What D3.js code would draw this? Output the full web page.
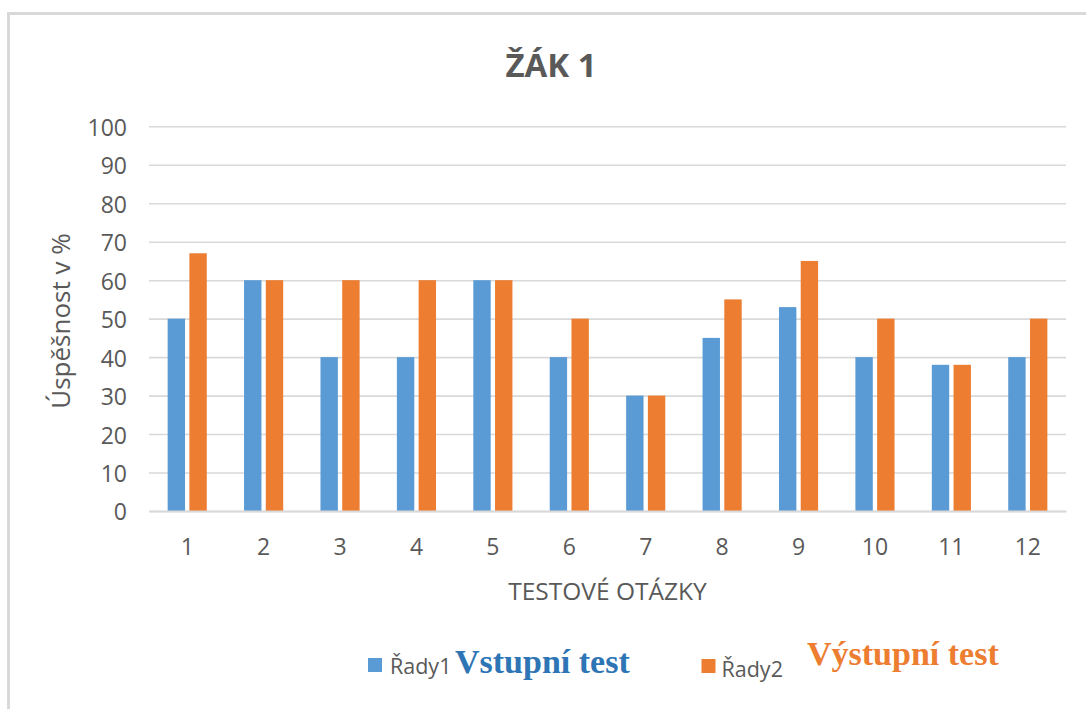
<!DOCTYPE html>
<html>
<head>
<meta charset="utf-8">
<script src="https://cdn.jsdelivr.net/npm/d3@7"></script>
<style>
  html, body { margin: 0; padding: 0; background: #fff; }
  svg { display: block; font-family: "Open Sans", sans-serif; }
</style>
</head>
<body>
<svg id="chart" width="1086" height="709"></svg>
<script>
  // values
  const categories = ["1", "2", "3", "4", "5", "6", "7", "8", "9", "10", "11", "12"];
  const seriesNames = ["Řady1", "Řady2"];
  const vstupni = [50, 60, 40, 40, 60, 40, 30, 45, 53, 40, 38, 40];
  const vystupni = [67, 60, 60, 60, 60, 50, 30, 55, 65, 50, 38, 50];
  const yTicks = [0, 10, 20, 30, 40, 50, 60, 70, 80, 90, 100];

  const BLUE = "#5B9BD5";
  const ORANGE = "#ED7D31";
  const TEXT = "#595959";
  const GRID = "#d9d9d9";

  const rows = categories.map((c, i) => ({ cat: c, values: [vstupni[i], vystupni[i]] }));

  const svg = d3.select("#chart");

  // chart frame (runs off the right/bottom edge like the screenshot)
  svg.append("rect")
    .attr("x", 8.5).attr("y", 13.5)
    .attr("width", 1100).attr("height", 720)
    .attr("fill", "#fff")
    .attr("stroke", GRID)
    .attr("stroke-width", 3);

  const plot = { left: 149, right: 1066, top: 126.3, bottom: 511 };

  const x0 = d3.scaleBand()
    .domain(categories)
    .range([plot.left, plot.right])
    .paddingInner(0.488)
    .paddingOuter(0.244);

  const x1 = d3.scaleBand()
    .domain([0, 1])
    .range([0, x0.bandwidth()])
    .paddingInner(0.2);

  const y = d3.scaleLinear().domain([0, 100]).range([plot.bottom, plot.top]);

  // y axis + gridlines
  const yAxis = svg.append("g")
    .attr("transform", `translate(${plot.left},0)`)
    .call(d3.axisLeft(y).tickValues(yTicks).tickSize(-(plot.right - plot.left)).tickPadding(22));
  yAxis.select(".domain").remove();
  yAxis.selectAll(".tick line").attr("stroke", GRID).attr("stroke-width", 1.6);
  yAxis.selectAll(".tick text")
    .attr("fill", TEXT)
    .attr("font-size", 23)
    .attr("font-family", "Open Sans")
    .attr("dy", "0.39em");

  // bars
  const groups = svg.append("g")
    .selectAll("g.grp")
    .data(rows)
    .join("g")
    .attr("class", "grp")
    .attr("transform", (d) => `translate(${x0(d.cat)},0)`);

  groups.selectAll("rect")
    .data((d) => d.values.map((v, i) => ({ i, v })))
    .join("rect")
    .attr("x", (d) => x1(d.i))
    .attr("y", (d) => y(d.v))
    .attr("width", x1.bandwidth())
    .attr("height", (d) => y(0) - y(d.v))
    .attr("fill", (d) => (d.i === 0 ? BLUE : ORANGE));

  // x axis
  const xAxis = svg.append("g")
    .attr("transform", `translate(0,${plot.bottom})`)
    .call(d3.axisBottom(x0).tickSize(0).tickPadding(27.5));
  xAxis.select(".domain").attr("stroke", GRID).attr("stroke-width", 2);
  xAxis.selectAll(".tick text")
    .attr("fill", TEXT)
    .attr("font-size", 23)
    .attr("font-family", "Open Sans");

  // title
  svg.append("text")
    .attr("x", 551).attr("y", 76.5)
    .attr("text-anchor", "middle")
    .attr("font-size", 33)
    .attr("font-weight", "bold")
    .attr("fill", TEXT)
    .text("ŽÁK 1");

  // axis titles
  svg.append("text")
    .attr("transform", "translate(70,321) rotate(-90)")
    .attr("text-anchor", "middle")
    .attr("font-size", 26)
    .attr("fill", TEXT)
    .text("Úspěšnost v %");

  svg.append("text")
    .attr("x", (plot.left + plot.right) / 2).attr("y", 600)
    .attr("text-anchor", "middle")
    .attr("font-size", 24.5)
    .attr("fill", TEXT)
    .text("TESTOVÉ OTÁZKY");

  // legend + the overlaid labels
  const legend = [
    { name: seriesNames[0], color: BLUE, sx: 368, sy: 658, tx: 390, ty: 674, label: "Vstupní test", lx: 455, ly: 673, lc: "#2E75B6" },
    { name: seriesNames[1], color: ORANGE, sx: 701.5, sy: 659, tx: 721.5, ty: 677, label: "Výstupní test", lx: 807, ly: 665, lc: ORANGE }
  ];
  const lg = svg.append("g").selectAll("g").data(legend).join("g");
  lg.append("rect")
    .attr("x", (d) => d.sx).attr("y", (d) => d.sy)
    .attr("width", 14).attr("height", 14)
    .attr("fill", (d) => d.color);
  lg.append("text")
    .attr("x", (d) => d.tx).attr("y", (d) => d.ty)
    .attr("font-size", 21.5)
    .attr("fill", TEXT)
    .text((d) => d.name);
  lg.append("text")
    .attr("x", (d) => d.lx).attr("y", (d) => d.ly)
    .attr("font-family", "Liberation Serif, serif")
    .attr("font-weight", "bold")
    .attr("font-size", 34)
    .attr("fill", (d) => d.lc)
    .text((d) => d.label);
</script>
</body>
</html>
